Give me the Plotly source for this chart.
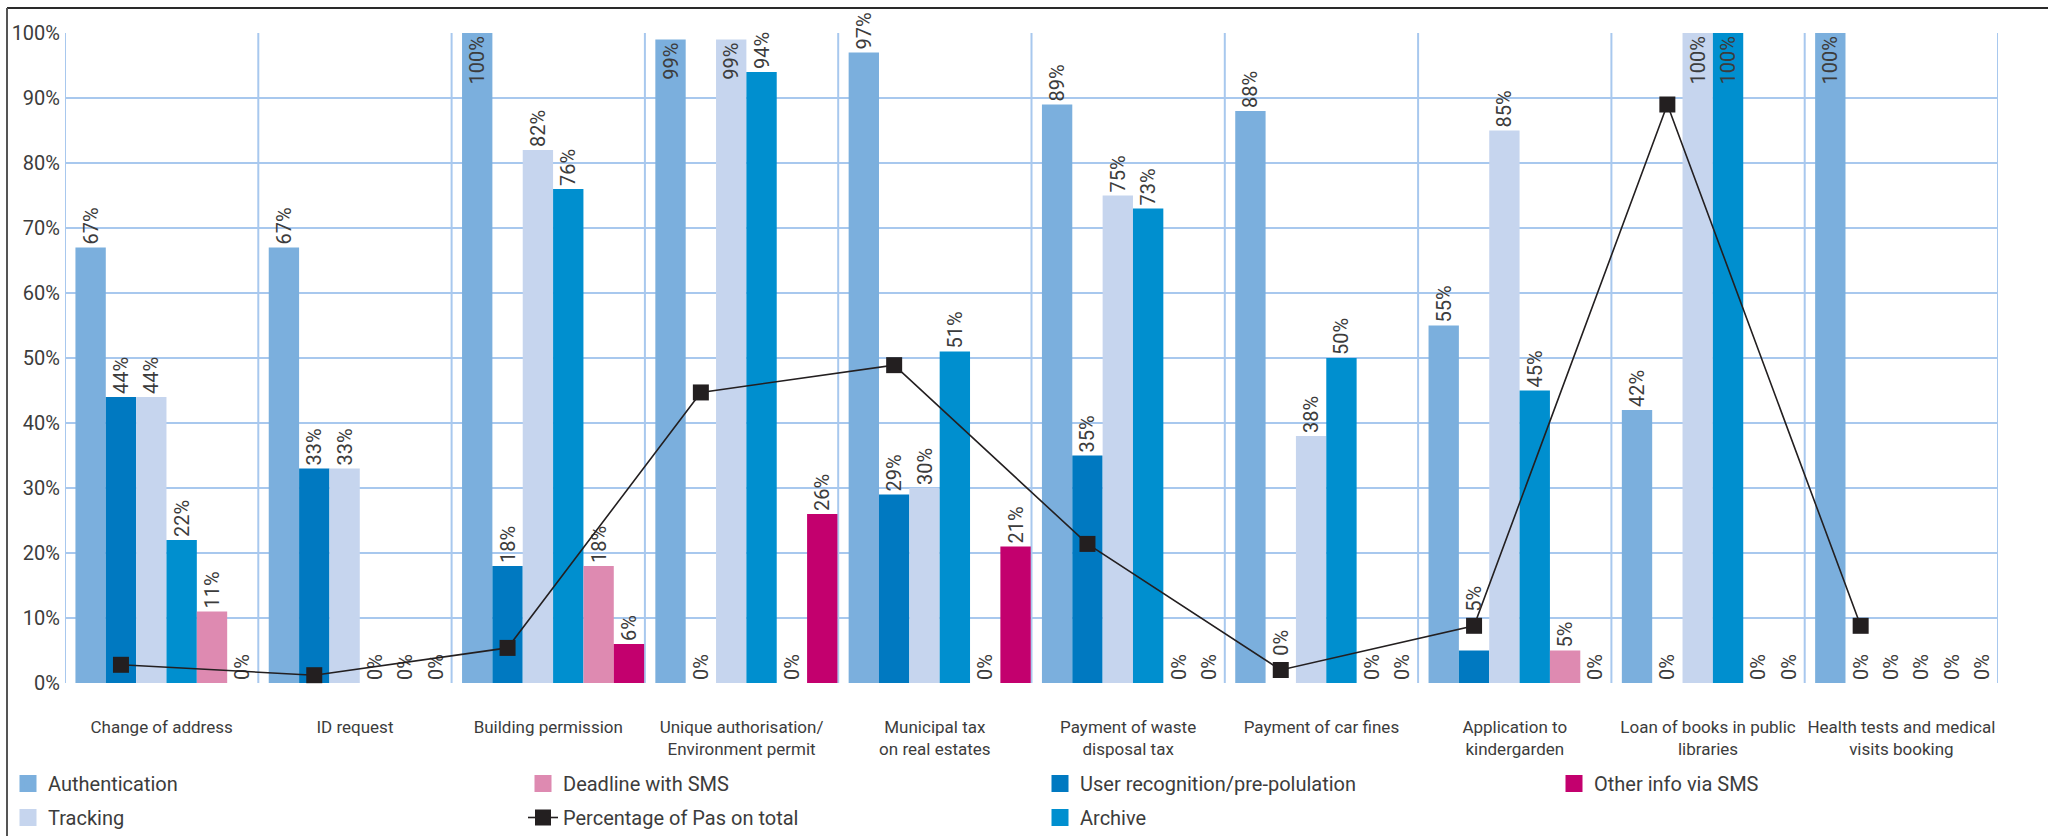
import plotly.graph_objects as go

# ---- data -------------------------------------------------------------
categories = [
    "Change of address",
    "ID request",
    "Building permission",
    "Unique authorisation/<br>Environment permit",
    "Municipal tax<br>on real estates",
    "Payment of waste<br>disposal tax",
    "Payment of car fines",
    "Application to<br>kindergarden",
    "Loan of books in public<br>libraries",
    "Health tests and medical<br>visits booking",
]

authentication = [67, 67, 100, 99, 97, 89, 88, 55, 42, 100]
user_recognition = [44, 33, 18, 0, 29, 35, 0, 5, 0, 0]
tracking = [44, 33, 82, 99, 30, 75, 38, 85, 100, 0]
archive = [22, 0, 76, 94, 51, 73, 50, 45, 100, 0]
deadline_sms = [11, 0, 18, 0, 0, 0, 0, 5, 0, 0]
other_info_sms = [0, 0, 6, 26, 21, 0, 0, 0, 0, 0]
pas_on_total = [2.8, 1.2, 5.4, 44.7, 48.9, 21.4, 2.0, 8.8, 89.0, 8.8]

series = [
    ("Authentication", authentication, "#7BAFDD"),
    ("User recognition/pre-polulation", user_recognition, "#0079C1"),
    ("Tracking", tracking, "#C6D5EE"),
    ("Archive", archive, "#008FCF"),
    ("Deadline with SMS", deadline_sms, "#DE8AB1"),
    ("Other info via SMS", other_info_sms, "#C3006E"),
]

# ---- layout constants -------------------------------------------------
W, H = 2048, 836
ML, MR, MT, MB = 65, 50, 33, 153
FONT = "Roboto, Liberation Sans, sans-serif"
TEXT_COLOR = "#3C3C3C"
GRID = "#A8C8EE"
LABEL_SIZE = 20

BAR_W = 0.157
GROUP_START = -0.446
LINE_SERIES = 1          # the line markers sit over this bar of each group

fig = go.Figure()
xs = list(range(len(categories)))

annotations = []
for j, (name, vals, color) in enumerate(series):
    labels = []
    for i, v in enumerate(vals):
        # a value label that would sit under a line marker is lifted above it
        covered = j == LINE_SERIES and v - 1.5 < pas_on_total[i] < v + 6
        if covered:
            labels.append("")
            annotations.append(dict(
                x=i + GROUP_START + (j + 0.5) * BAR_W, y=pas_on_total[i],
                xref="x", yref="y", text=f"{v}%", showarrow=False,
                textangle=-90, yanchor="bottom", yshift=12,
                font=dict(family=FONT, size=LABEL_SIZE, color=TEXT_COLOR),
            ))
        else:
            labels.append(f"{v}%")
    fig.add_trace(go.Bar(
        x=xs,
        y=vals,
        width=BAR_W,
        offset=GROUP_START + j * BAR_W,
        marker=dict(color=color, line=dict(width=0)),
        text=labels,
        textposition=["inside" if v >= 99 else "outside" for v in vals],
        insidetextanchor="end",
        textangle=-90,
        textfont=dict(family=FONT, size=LABEL_SIZE, color=TEXT_COLOR),
        insidetextfont=dict(family=FONT, size=LABEL_SIZE, color=TEXT_COLOR),
        outsidetextfont=dict(family=FONT, size=LABEL_SIZE, color=TEXT_COLOR),
        constraintext="none",
        cliponaxis=False,
        name=name,
        showlegend=False,
        hoverinfo="skip",
    ))

# Line: share of PAs, centred on the second bar of each group
line_x = [i + GROUP_START + (LINE_SERIES + 0.5) * BAR_W for i in xs]
fig.add_trace(go.Scatter(
    x=line_x,
    y=pas_on_total,
    mode="lines+markers",
    line=dict(color="#231F20", width=1.6),
    marker=dict(symbol="square", size=16, color="#231F20"),
    name="Percentage of Pas on total",
    showlegend=False,
    cliponaxis=False,
))

# Legend-only entries, arranged in four columns
legend_columns = {
    "legend": ["Authentication", "Tracking"],
    "legend2": ["Deadline with SMS", "Percentage of Pas on total"],
    "legend3": ["User recognition/pre-polulation", "Archive"],
    "legend4": ["Other info via SMS"],
}
colors = {name: color for name, _, color in series}
for leg, names in legend_columns.items():
    for name in names:
        if name == "Percentage of Pas on total":
            fig.add_trace(go.Scatter(
                x=[None], y=[None], mode="lines+markers",
                line=dict(color="#231F20", width=1.6),
                marker=dict(symbol="square", size=16, color="#231F20"),
                name=name, legend=leg, legendgroup=name,
            ))
        else:
            fig.add_trace(go.Bar(
                x=[None], y=[None], name=name, legend=leg, legendgroup=name,
                marker=dict(color=colors[name], line=dict(color=colors[name], width=5)),
            ))

col_px = [8, 523, 1040, 1554]
legend_common = dict(
    xref="container", yref="container", xanchor="left", yanchor="top",
    y=1 - 764 / H,
    font=dict(family=FONT, size=20, color=TEXT_COLOR),
    bgcolor="rgba(0,0,0,0)", tracegroupgap=5, itemwidth=30,
    orientation="v",
)
legends = {}
for k, leg in enumerate(legend_columns):
    legends[leg] = dict(legend_common, x=col_px[k] / W)

# Vertical category separators
shapes = []
for k in range(len(categories) + 1):
    shapes.append(dict(
        type="line", xref="x", yref="y", x0=k - 0.5, x1=k - 0.5, y0=0, y1=100,
        line=dict(color=GRID, width=2), layer="below",
    ))

# Outer frame (top and left rules)
pw, ph = W - ML - MR, H - MT - MB
fx0 = (7 - ML) / pw
fy_top = (H - MB - 8) / ph
fy_bot = (H - MB - H) / ph
shapes.append(dict(type="line", xref="paper", yref="paper",
                   x0=fx0, x1=(W - ML) / pw, y0=fy_top, y1=fy_top,
                   line=dict(color="#2A2A2A", width=2)))
shapes.append(dict(type="line", xref="paper", yref="paper",
                   x0=fx0, x1=fx0, y0=fy_top, y1=fy_bot,
                   line=dict(color="#555555", width=2)))

fig.update_layout(
    width=W, height=H,
    margin=dict(l=ML, r=MR, t=MT, b=MB, autoexpand=False),
    paper_bgcolor="white", plot_bgcolor="white",
    barmode="overlay",
    showlegend=True,
    shapes=shapes,
    annotations=annotations,
    font=dict(family=FONT, color=TEXT_COLOR),
    xaxis=dict(
        range=[-0.5, len(categories) - 0.5],
        tickmode="array", tickvals=xs, ticktext=categories,
        tickangle=0,
        showgrid=False, zeroline=False, showline=False, ticks="",
        tickfont=dict(family=FONT, size=17, color=TEXT_COLOR),
        ticklabelstandoff=32,
    ),
    yaxis=dict(
        range=[0, 100], tickmode="linear", tick0=0, dtick=10,
        ticksuffix="%", showgrid=True, gridcolor=GRID, gridwidth=2,
        zeroline=False, showline=False, ticks="",
        tickfont=dict(family=FONT, size=20, color=TEXT_COLOR),
        ticklabelstandoff=4,
    ),
    **legends,
)

fig.write_html("out.html")
